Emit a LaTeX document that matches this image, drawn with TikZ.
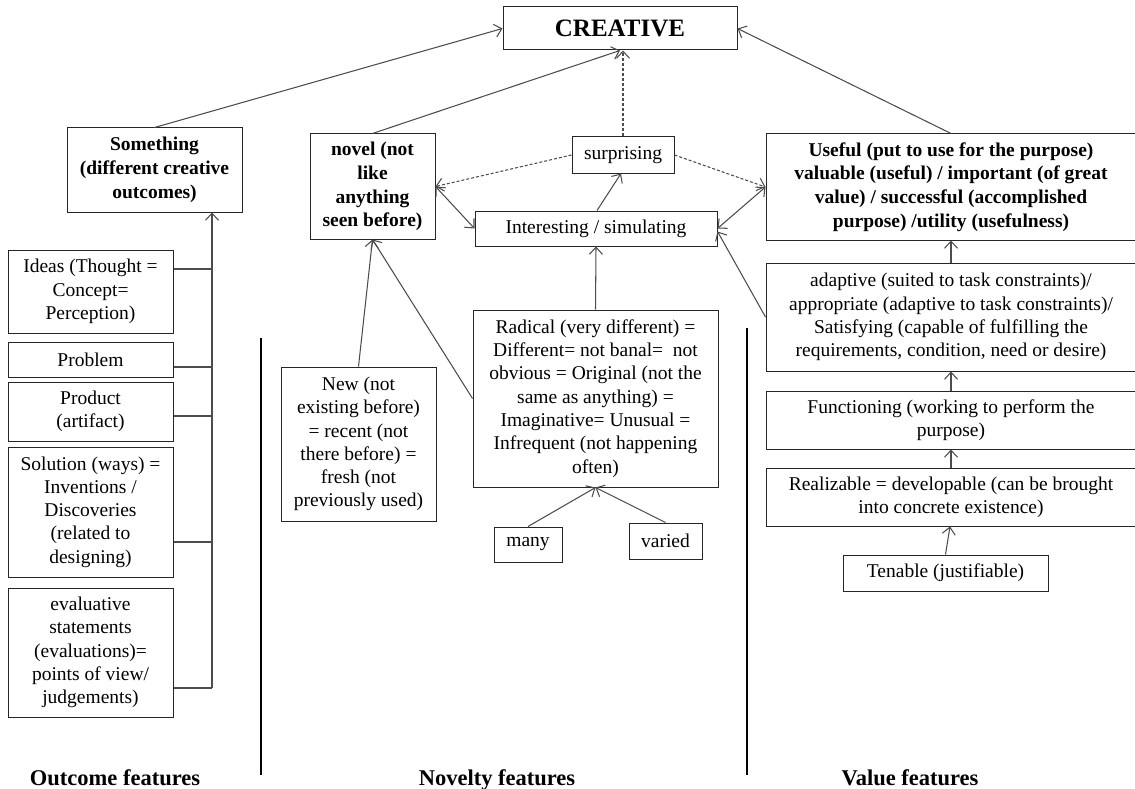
\documentclass[tikz,border=0pt]{standalone}
\usepackage{fontspec}
\setmainfont{Liberation Serif}
\usetikzlibrary{arrows.meta}
\begin{document}
\begin{tikzpicture}[x=1pt,y=-1pt,
  >={Straight Barb[length=7pt,width=13pt]},
  box/.style={draw=black!85, line width=1pt, inner sep=0pt, align=center, font=\fontsize{19.5}{23.3}\selectfont},
  bbox/.style={box, font=\fontsize{19.5}{23.8}\selectfont\bfseries},
  conn/.style={draw=black!70, line width=1.05pt},
  arr/.style={conn, ->},
  darr/.style={conn, <->},
  dsh/.style={conn, ->, dash pattern=on 3pt off 2pt},
  sep/.style={draw=black, line width=2.6pt},
  lbl/.style={anchor=base, inner sep=0pt, font=\fontsize{22.5}{26}\selectfont\bfseries}
]
\clip (0,0) rectangle (1135,789);
\fill[white] (0,0) rectangle (1135,789);

% top
\node[bbox, minimum width=234pt, minimum height=43pt, font=\fontsize{25}{30}\selectfont\bfseries] (creative) at (620,28.5) {CREATIVE};

% outcome column
\node[bbox, minimum width=175pt, minimum height=84pt] (something) at (154.5,170) {Something\\(different creative\\outcomes)};
\node[box, minimum width=165pt, minimum height=83pt] (ideas) at (90.5,291.5) {Ideas (Thought =\\Concept=\\Perception)};
\node[box, minimum width=165pt, minimum height=35pt] (problem) at (90.5,359.5) {Problem};
\node[box, minimum width=165pt, minimum height=59pt] (product) at (90.5,411.5) {Product\\(artifact)};
\node[box, minimum width=165pt, minimum height=130pt] (solution) at (90.5,512) {Solution (ways) =\\Inventions /\\Discoveries\\(related to\\designing)};
\node[box, minimum width=165pt, minimum height=129pt] (evaluative) at (90.5,652.5) {evaluative\\statements\\(evaluations)=\\points of view/\\judgements)};

% novelty column
\node[bbox, minimum width=125pt, minimum height=105pt] (novel) at (372.5,186.5) {novel (not\\like\\anything\\seen before)};
\node[box, minimum width=102pt, minimum height=36pt] (surprising) at (623,155) {surprising};
\node[box, minimum width=242pt, minimum height=35pt] (interesting) at (596,228.5) {Interesting / simulating};
\node[box, minimum width=155pt, minimum height=154pt] (new) at (358.5,444) {New (not\\existing before)\\= recent (not\\there before) =\\fresh (not\\previously used)};
\node[box, minimum width=245pt, minimum height=177pt] (radical) at (595.5,398.5) {Radical (very different) =\\Different= not banal=~ not\\obvious = Original (not the\\same as anything) =\\Imaginative= Unusual =\\Infrequent (not happening\\often)};
\node[box, minimum width=68pt, minimum height=35pt] (many) at (528,544.5) {many};
\node[box, minimum width=73pt, minimum height=36pt] (varied) at (665.5,541) {varied};

% value column
\node[bbox, minimum width=370pt, minimum height=106pt] (useful) at (951,187) {Useful (put to use for the purpose)\\valuable (useful) / important (of great\\value) / successful (accomplished\\purpose) /utility (usefulness)};
\node[box, minimum width=370pt, minimum height=108pt] (adaptive) at (951,317) {adaptive (suited to task constraints)/\\appropriate (adaptive to task constraints)/\\Satisfying (capable of fulfilling the\\requirements, condition, need or desire)};
\node[box, minimum width=370pt, minimum height=58pt] (functioning) at (951,420) {Functioning (working to perform the\\purpose)};
\node[box, minimum width=370pt, minimum height=58pt] (realizable) at (951,497) {Realizable = developable (can be brought\\into concrete existence)};
\node[box, minimum width=205pt, minimum height=36pt] (tenable) at (945.5,573) {Tenable (justifiable)};

% labels
\node[lbl] (lout) at (115,785) {Outcome features};
\node[lbl] (lnov) at (497,785) {Novelty features};
\node[lbl] (lval) at (910,785) {Value features};

% separators
\draw[sep] (261,338) -- (261,775);
\draw[sep] (747,328) -- (747,775);

% connectors to CREATIVE
\draw[arr] (something.north) -- (creative.west);
\draw[arr] (novel.north) -- (creative.south);
\draw[arr] (useful.north) -- (creative.east);
\draw[dsh] (surprising.north) -- (surprising.north |- creative.south);
\draw[dsh] (surprising.west) -- (novel.east);
\draw[dsh] (surprising.east) -- (useful.west);
\draw[darr] (novel.east) -- (interesting.west);
\draw[darr] (interesting.east) -- (useful.west);
\draw[arr] ([xshift=1pt]interesting.north) -- ([xshift=-2pt]surprising.south);

% novelty
\draw[arr] (new.north) -- (novel.south);
\draw[arr] (radical.west) -- (novel.south);
\draw[arr] (radical.north) -- (interesting.south);
\draw[arr] (many.north) -- (radical.south);
\draw[arr] (varied.north) -- (radical.south);

% value chain
\draw[arr] (adaptive.north) -- (useful.south);
\draw[arr] (adaptive.west) -- ([yshift=-3pt]interesting.east);
\draw[arr] (functioning.north) -- (adaptive.south);
\draw[arr] (realizable.north) -- (functioning.south);
\draw[arr] (tenable.north) -- ([xshift=-1pt]realizable.south);

% outcome trunk
\coordinate (c1) at ([yshift=22.5pt]ideas.east);
\coordinate (c2) at ([yshift=-7.5pt]problem.east);
\coordinate (c3) at ([yshift=-4.5pt]product.east);
\coordinate (c4) at ([yshift=-30pt]solution.east);
\coordinate (c5) at ([yshift=-35.5pt]evaluative.east);
\coordinate (tb) at (212,688);
\draw[conn] (c5) -- (tb);
\draw[arr] (tb) -- (tb |- something.south);
\draw[conn] (c1) -- (c1 -| tb);
\draw[conn] (c2) -- (c2 -| tb);
\draw[conn] (c3) -- (c3 -| tb);
\draw[conn] (c4) -- (c4 -| tb);
\end{tikzpicture}
\end{document}
